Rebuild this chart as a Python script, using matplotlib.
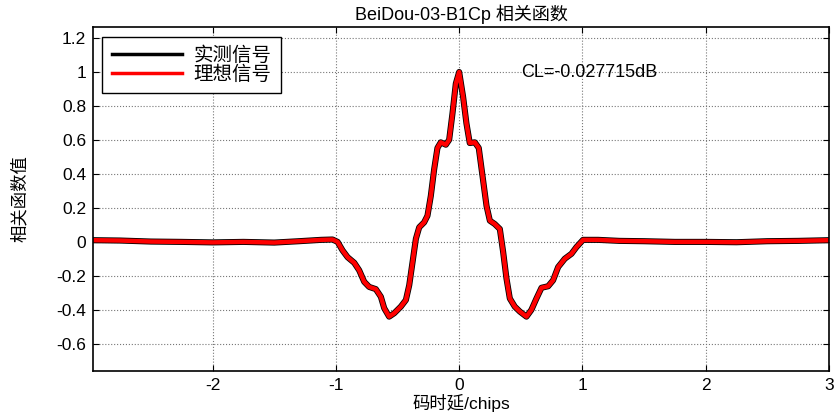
import matplotlib.pyplot as plt

plt.rcParams['font.family'] = ['Liberation Sans', 'Noto Sans CJK SC', 'DejaVu Sans']

# Correlation function (delay in chips, normalised value)
delay = [-2.97, -2.75, -2.5, -2.25, -2.0, -1.75, -1.5, -1.3, -1.12, -1.027,
         -0.986, -0.946, -0.905, -0.851, -0.811, -0.77, -0.73, -0.676, -0.635,
         -0.608, -0.568, -0.527, -0.473, -0.432, -0.405, -0.378, -0.351, -0.324,
         -0.284, -0.257, -0.23, -0.203, -0.176, -0.149, -0.108, -0.081, -0.054,
         -0.027, 0.0,
         0.032, 0.059, 0.086, 0.127, 0.159, 0.186, 0.222, 0.249, 0.289, 0.33,
         0.357, 0.384, 0.411, 0.451, 0.492, 0.546, 0.586, 0.627, 0.668, 0.722,
         0.762, 0.803, 0.857, 0.911, 0.951, 1.005, 1.127, 1.3, 1.5, 1.75, 2.0,
         2.25, 2.5, 2.75, 3.0]
corr = [0.01, 0.008, 0.002, 0.0, -0.003, 0.0, -0.004, 0.004, 0.012, 0.014,
        0.0, -0.05, -0.09, -0.123, -0.167, -0.235, -0.265, -0.278, -0.323,
        -0.39, -0.44, -0.42, -0.381, -0.342, -0.255, -0.119, 0.018, 0.086,
        0.115, 0.154, 0.27, 0.426, 0.553, 0.586, 0.572, 0.601, 0.757,
        0.932, 1.0,
        0.854, 0.698, 0.582, 0.586, 0.553, 0.407, 0.212, 0.125, 0.105, 0.076,
        -0.06, -0.216, -0.333, -0.381, -0.41, -0.44, -0.4, -0.333, -0.27, -0.261,
        -0.226, -0.148, -0.099, -0.07, -0.031, 0.012, 0.012, 0.006, 0.004, 0.0, 0.0,
        -0.002, 0.004, 0.006, 0.01]

xticks = [-2, -1, 0, 1, 2, 3]
yticks = [-0.6, -0.4, -0.2, 0, 0.2, 0.4, 0.6, 0.8, 1, 1.2]
yticklabels = ['-0.6', '-0.4', '-0.2', '0', '0.2', '0.4', '0.6', '0.8', '1', '1.2']

fig = plt.figure(figsize=(8.35, 4.12), dpi=100)
ax = fig.add_axes([0.1114, 0.0995, 0.8814, 0.835])

ax.plot(delay, corr, color='black', linewidth=4.4, label='实测信号',
        solid_joinstyle='round')
ax.plot(delay, corr, color='red', linewidth=3.2, label='理想信号',
        solid_joinstyle='round')

ax.set_xlim(-2.97, 3.0)
ax.set_ylim(-0.76, 1.265)
ax.set_xticks(xticks)
ax.set_xticklabels([str(t) for t in xticks])
ax.set_yticks(yticks)
ax.set_yticklabels(yticklabels)
ax.tick_params(direction='in', top=True, right=True, labelsize=12.5, length=4, pad=5)
ax.grid(True, linestyle=':', color='#777777', linewidth=0.8)
for s in ax.spines.values():
    s.set_linewidth(1.2)

ax.set_title('BeiDou-03-B1Cp 相关函数', fontsize=13, pad=5)
ax.set_xlabel('码时延/chips', fontsize=12.5, labelpad=1)
ax.set_ylabel('相关函数值', fontsize=12.5, labelpad=20)
ax.text(0.5, 1.0, 'CL=-0.027715dB', fontsize=13, va='center', ha='left')

leg = ax.legend(loc='upper left', bbox_to_anchor=(0.012, 0.971), borderaxespad=0,
                fancybox=False, framealpha=1, edgecolor='black', fontsize=14,
                handlelength=3.6, handletextpad=0.6, borderpad=0.5,
                labelspacing=0.0)
leg.get_frame().set_linewidth(1.0)
for line in leg.get_lines():
    line.set_linewidth(2.5)

fig.savefig('out.png', dpi=100)
